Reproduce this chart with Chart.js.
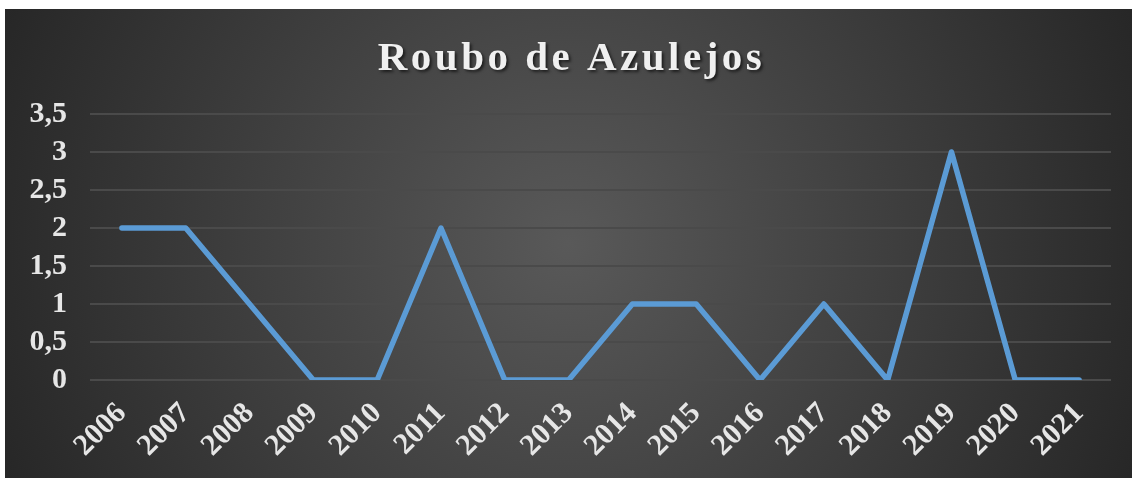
<!DOCTYPE html>
<html>
<head>
<meta charset="utf-8">
<script src="https://cdn.jsdelivr.net/npm/chart.js@4.4.1/dist/chart.umd.min.js"></script>
<style>
  html,body{margin:0;padding:0;background:#fff;}
  #wrap{position:absolute;left:5px;top:9px;width:1127px;height:469px;}
  canvas{display:block;}
</style>
</head>
<body>
<div id="wrap"><canvas id="c" width="1127" height="469"></canvas></div>
<script>
const chartTitle = "Roubo de Azulejos";
const categories = ["2006","2007","2008","2009","2010","2011","2012","2013","2014","2015","2016","2017","2018","2019","2020","2021"];
const values = [2,2,1,0,0,2,0,0,1,1,0,1,0,3,0,0];
const yMin = 0, yMax = 3.5, yStep = 0.5;

const FONT = "'Liberation Serif','Times New Roman',serif";
const TEXT = "#e6e6e6";

const bgPlugin = {
  id: 'bg',
  beforeDraw(chart){
    const {ctx, width, height} = chart;
    ctx.save();
    const g = ctx.createRadialGradient(width*0.5, height*0.5, 0, width*0.5, height*0.5, width*0.55);
    g.addColorStop(0, '#595959');
    g.addColorStop(1, '#262626');
    ctx.fillStyle = g;
    ctx.fillRect(0,0,width,height);
    ctx.restore();
  }
};

const titlePlugin = {
  id: 'customTitle',
  afterDraw(chart){
    const {ctx, width} = chart;
    ctx.save();
    ctx.font = "bold 41px " + FONT;
    try { ctx.letterSpacing = '3.5px'; } catch(e){}
    ctx.textAlign = 'center';
    ctx.textBaseline = 'middle';
    ctx.shadowColor = 'rgba(0,0,0,0.6)';
    ctx.shadowOffsetX = 2;
    ctx.shadowOffsetY = 2;
    ctx.shadowBlur = 3;
    ctx.fillStyle = '#f0f0f0';
    ctx.fillText(chartTitle, width/2 + 3, 50);
    ctx.restore();
  }
};

new Chart(document.getElementById('c'), {
  type: 'line',
  data: {
    labels: categories,
    datasets: [{
      data: values,
      borderColor: '#5B9BD5',
      borderWidth: 5.5,
      pointRadius: 0,
      pointHoverRadius: 0,
      tension: 0,
      borderJoinStyle: 'round',
      borderCapStyle: 'round',
      fill: false
    }]
  },
  options: {
    responsive: false,
    animation: false,
    devicePixelRatio: 1,
    layout: { padding: { top: 105, right: 21, left: 0, bottom: 0 } },
    plugins: { legend: { display: false }, title: { display: false }, tooltip: { enabled: false } },
    scales: {
      x: {
        offset: true,
        grid: { display: false, drawTicks: false },
        border: { display: false },
        afterFit(scale){ scale.height = 98; },
        ticks: {
          color: TEXT,
          font: { family: FONT, size: 30, weight: 'bold' },
          maxRotation: 45, minRotation: 45,
          padding: 16,
          autoSkip: false
        }
      },
      y: {
        min: yMin, max: yMax,
        grid: { color: '#4a4a4a', lineWidth: 2, drawTicks: false },
        border: { display: false },
        afterFit(scale){ scale.width = 85; },
        ticks: {
          stepSize: yStep,
          autoSkip: false,
          color: TEXT,
          font: { family: FONT, size: 30, weight: 'bold' },
          padding: 23,
          callback: v => String(v).replace('.', ',')
        }
      }
    }
  },
  plugins: [bgPlugin, titlePlugin]
});
</script>
</body>
</html>
